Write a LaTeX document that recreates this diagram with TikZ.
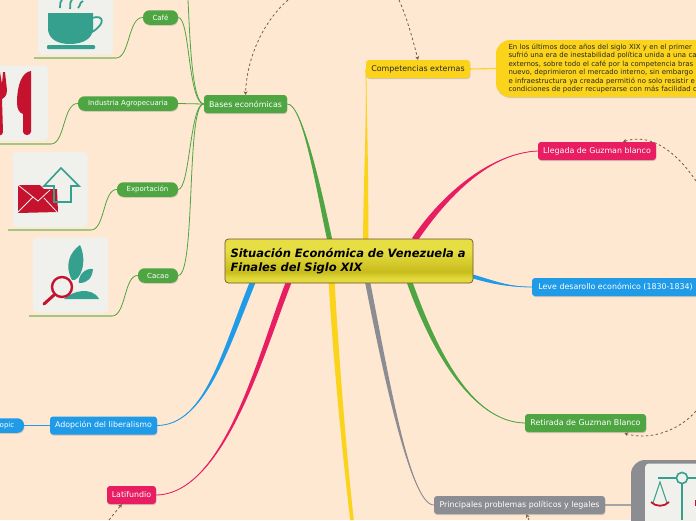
\documentclass[tikz,border=0pt]{standalone}
\usepackage{fontspec}
\setmainfont{DejaVu Sans}
\usetikzlibrary{calc,shadows,arrows.meta}
\pgfdeclarelayer{bg}
\pgfsetlayers{bg,main}
\definecolor{paper}{HTML}{FEE8D2}
\definecolor{mgreen}{HTML}{4EA542}
\definecolor{lgreen}{HTML}{A3C783}
\definecolor{myellow}{HTML}{FBD31B}
\definecolor{mpink}{HTML}{E81D62}
\definecolor{mblue}{HTML}{1F9BE8}
\definecolor{mgrey}{HTML}{8C8D92}
\definecolor{pale}{HTML}{F0F0EC}
\definecolor{teal}{HTML}{36A08E}
\definecolor{mred}{HTML}{C4122F}
\definecolor{dbrown}{HTML}{7E5A3A}
\definecolor{rootc}{HTML}{E2DA3C}
\definecolor{rootb}{HTML}{C8BC1C}
\definecolor{roott}{HTML}{E6DE42}
\pgfdeclareverticalshading{rootshade}{100bp}{color(0bp)=(rootc);color(30bp)=(rootc);color(38bp)=(rootb);color(62bp)=(roott);color(100bp)=(roott)}
\tikzset{
 topicbox/.style={rounded corners=3pt,inner sep=0pt,minimum height=18pt,text=white,font=\fontsize{7.9}{9}\selectfont,
   drop shadow={opacity=.35,shadow xshift=.4pt,shadow yshift=-1pt}},
 subbox/.style={rounded corners=6.5pt,inner sep=0pt,minimum height=14.5pt,text=white,fill=mgreen,font=\fontsize{7}{8}\selectfont,
   drop shadow={opacity=.3,shadow xshift=.4pt,shadow yshift=-1pt}},
 iconbox/.style={fill=pale,rounded corners=4pt,minimum width=75pt,minimum height=75pt,inner sep=0pt},
 twig/.style={mgreen,line width=.8pt},
 under/.style={lgreen,line width=1.1pt},
 dashlink/.style={draw=dbrown,line width=.8pt,dash pattern=on 2.5pt off 2.5pt,-{Stealth[length=3.5pt,width=4pt]}},
}
% colour, start, control 1, control 2, end, half width vector
\newcommand\taper[6]{%
 \fill[#1] ($(#2)+#6$) .. controls ($(#3)+#6$) and (#4) .. (#5) .. controls (#4) and ($(#3)-#6$) .. ($(#2)-#6$) -- cycle;
 \draw[#1,line width=.8pt] (#2) .. controls (#3) and (#4) .. (#5);}
\begin{document}
\begin{tikzpicture}[x=1pt,y=-1pt]
\useasboundingbox (0,0) rectangle (696,520);
\clip (0,0) rectangle (696,520);
% nodes
\node[draw=dbrown!90!black,line width=.7pt,rounded corners=3.5pt,shading=rootshade,minimum width=248pt,minimum height=44pt,inner sep=0pt,
  text width=237pt,align=left,font=\fontsize{11.5}{14.5}\selectfont\bfseries\itshape,text=black] (root) at (349,261) {Situación Económica de Venezuela a\\Finales del Siglo XIX};
\node[topicbox,fill=mgreen,minimum width=83pt] (bases) at (245.5,104) {Bases económicas};
\node[topicbox,fill=myellow,text=black!85,minimum width=104pt] (comp) at (418,69) {Competencias externas};
\node[fill=myellow,rounded corners=14pt,minimum width=264pt,minimum height=57pt,inner sep=0pt,text width=239pt,align=left,text=black!85,
  font=\fontsize{6.95}{8.45}\selectfont,drop shadow={opacity=.3,shadow xshift=.4pt,shadow yshift=-1pt}] (detail) at (628,68.5)
  {En los últimos doce años del siglo XIX y en el primer\\sufrió una era de inestabilidad política unida a una ca\\externos, sobre todo el café por la competencia bras\\nuevo, deprimieron el mercado interno, sin embargo\\e infraestructura ya creada permitió no solo resistir e\\condiciones de poder recuperarse con más facilidad d};
\node[topicbox,fill=mpink,minimum width=118pt] (llegada) at (597,151) {Llegada de Guzman blanco};
\node[topicbox,fill=mblue,minimum width=167pt] (leve) at (615.5,287) {Leve desarollo económico (1830-1834)};
\node[topicbox,fill=mgreen,minimum width=121pt] (retirada) at (585.5,423) {Retirada de Guzman Blanco};
\node[topicbox,fill=mgrey,minimum width=171pt] (princ) at (519.5,505) {Principales problemas políticos y legales};
\node[topicbox,fill=mblue,minimum width=107pt] (adop) at (103.5,425.5) {Adopción del liberalismo};
\node[subbox,fill=mblue,minimum width=34pt] (topic) at (7,425.5) {opic};
\node[topicbox,fill=mpink,minimum width=49pt] (lati) at (131.5,495) {Latifundio};
\node[subbox,minimum width=35pt] (cafe) at (160.5,17.5) {Café};
\node[subbox,minimum width=100pt] (indus) at (128,103.5) {Industria Agropecuaria};
\node[subbox,minimum width=61pt] (expo) at (147.5,189.5) {Exportación};
\node[subbox,minimum width=40pt] (cacao) at (158,275.5) {Cacao};
% icon tiles
\node[iconbox] (icup) at (75.5,17) {};
\node[iconbox] (ifork) at (10.5,103) {};
\node[iconbox] (iexp) at (50,189.5) {};
\node[iconbox] (icac) at (70.5,275) {};
\node[fill=mgrey,rounded corners=14pt,minimum width=130pt,minimum height=140pt,inner sep=0pt] (iscale) at (696,530) {};
\fill[pale,rounded corners=4pt] (645,463.5) rectangle (720,540);
% coffee cup
\fill[teal] (48,13) -- (93,13) -- (93,30) .. controls (92,38) and (84,44) .. (70,44) .. controls (56,44) and (49,38) .. (48,30) -- cycle;
\draw[teal,line width=1.8pt] (92,18) .. controls (104,14) and (106,24) .. (92,32);
\fill[teal,rounded corners=1pt] (47,45) rectangle (95,49);
\draw[teal,line width=1.8pt] (62,0) .. controls (59,3) and (61,5) .. (60,8);
\draw[teal,line width=1.8pt] (72,0) .. controls (69,3) and (71,5) .. (70,9);
\draw[teal,line width=1.8pt] (83,1) .. controls (79,3) and (81,5) .. (78,8);
% cutlery
\fill[mred] (31,71) .. controls (22,72) and (17,85) .. (17,103) .. controls (17,110) and (20,113) .. (23,114) -- (23,132) .. controls (24,136) and (30,136) .. (31,132) -- cycle;
\fill[mred] (0,72) -- (2,84) -- (3,72) -- (5,72) -- (7,90) .. controls (7,96) and (4,98) .. (2,99) -- (3,132) .. controls (2,136) and (0,135) .. (0,135) -- cycle;
% mail and arrow
\fill[mred] (18,185) -- (40,185) -- (44,189) -- (57,189) -- (58,212) -- (18,213) -- cycle;
\draw[pale,line width=.8pt] (18,185) -- (38,201) -- (50,190) (18,212) -- (33,197) (57,212) -- (44,198);
\draw[teal,line width=1.6pt,line join=miter] (61,168) -- (79,186) -- (71,186) -- (71,202) -- (54,202) -- (54,186) -- (44,186) -- cycle;
% plant and magnifier
\fill[teal] (80,245) .. controls (70,252) and (64,265) .. (72,280) .. controls (80,282) and (88,262) .. (80,245) -- cycle;
\fill[teal] (93,269) .. controls (85,268) and (78,275) .. (79,283) .. controls (88,283) and (92,278) .. (93,269) -- cycle;
\fill[teal] (64,299) .. controls (72,291) and (92,286) .. (99,299) -- cycle;
\draw[mred,line width=2.4pt,fill=pale] (62,287) circle (10);
\draw[mred,line width=3pt,line cap=round] (54,295) -- (44,304);
% scale
\draw[teal,line width=1.6pt] (658,478) -- (676,478) (688,478) -- (696,478) (682,484) -- (682,520);
\draw[teal,line width=1.6pt,fill=pale] (682,478) circle (5.6);
\draw[teal,line width=1pt] (653,503) -- (660,482) -- (667,503);
\draw[mred,line width=1.8pt] (651,502) .. controls (656,507) and (664,507) .. (669,502);
\fill[mred] (695,500) rectangle (696,506);
% connectors
\begin{pgfonlayer}{bg}
\fill[paper] (0,0) rectangle (696,520);
\coordinate (sgreen) at ($(root.north west)+(105,1)$);
\coordinate (syel) at ($(root.north west)+(141,1)$);
\coordinate (spink) at ($(root.north west)+(190,1)$);
\coordinate (sleve) at ($(root.east)+(-2,15)$);
\coordinate (sretir) at ($(root.south west)+(185,-1)$);
\coordinate (sgrey) at ($(root.south west)+(143,-1)$);
\coordinate (sydown) at ($(root.south west)+(107,-1)$);
\coordinate (splat) at ($(root.south west)+(64,-1)$);
\coordinate (sadop) at ($(root.south west)+(28,-1)$);
\coordinate (ydownend) at (352,520);
\taper{mgreen}{sgreen}{318,185}{302,103}{bases.east}{(2.6,0)}
\taper{myellow}{syel}{366,180}{367,110}{comp.west}{(2.6,0)}
\taper{mpink}{spink}{445,195}{490,153}{llegada.west}{(2.6,1.6)}
\taper{mblue}{sleve}{495,283}{510,287}{leve.west}{(0,2)}
\taper{mgreen}{sretir}{432,345}{470,422}{retirada.west}{(2.6,-1)}
\taper{mgrey}{sgrey}{385,370}{410,505}{princ.west}{(2.6,0)}
\fill[myellow] ($(sydown)+(3,0)$) .. controls (339,360) and (347,460) .. ($(ydownend)+(1.8,0)$) -- ($(ydownend)-(1.8,0)$) .. controls (343,460) and (333,360) .. ($(sydown)-(3,0)$) -- cycle;
\taper{mpink}{splat}{262,350}{225,494}{lati.east}{(2.6,1)}
\taper{mblue}{sadop}{225,350}{205,425}{adop.east}{(2.6,1)}
\draw[myellow,line width=1.1pt] (comp.east) -- (detail.west);
\draw[mgrey!80,line width=1.1pt] (princ.east) -- (princ.east -| iscale.west);
\draw[mblue,line width=1pt] (adop.west) -- (topic.east);
\coordinate (btop) at (188,0);
\draw[twig] (bases.west) .. controls (192,103) and (190,40) .. (btop);
\draw[twig] (bases.west) .. controls (188,103) and (190,17) .. (cafe.east);
\draw[twig] (bases.west) -- (indus.east);
\draw[twig] (bases.west) .. controls (190,103) and (190,189) .. (expo.east);
\draw[twig] (bases.west) .. controls (186,103) and (196,275) .. (cacao.east);
\coordinate (ua) at (34,58); \coordinate (ub) at (116,58);
\draw[under] (ua) -- (ub);
\draw[twig] (ub) .. controls (130,58) and (128,17) .. (cafe.west);
\coordinate (va) at (0,144); \coordinate (vb) at (51,144);
\draw[under] (va) -- (vb);
\draw[twig] (vb) .. controls (65,144) and (63,103) .. (indus.west);
\coordinate (wa) at (8,230); \coordinate (wb) at (91,230);
\draw[under] (wa) -- (wb);
\draw[twig] (wb) .. controls (105,230) and (103,189) .. (expo.west);
\coordinate (xa) at (29,316); \coordinate (xb) at (112,316);
\draw[under] (xa) -- (xb);
\draw[twig] (xb) .. controls (126,316) and (124,275) .. (cacao.west);
\end{pgfonlayer}
% dashed relations
\coordinate (da) at (288,0);
\coordinate (db) at (399,0);
\coordinate (dc) at (696,181);
\coordinate (dd) at (696,411);
\coordinate (de) at (109,520);
\coordinate (df) at (529,520);
\draw[dashlink] (da) .. controls (265,20) and (247,55) .. (bases.north);
\draw[dashlink] (db) .. controls (407,18) and (413,40) .. (comp.north);
\draw[dashlink] (dc) .. controls (675,150) and (650,133) .. ($(llegada.north)+(26,0)$);
\draw[dashlink] (dd) .. controls (680,430) and (650,441) .. ($(retirada.south)+(39,1)$);
\draw[dashlink] (de) -- ($(lati.south west)+(15,0)$);
\draw[dashlink] (df) -- ($(princ.south)+(7,0)$);
\end{tikzpicture}
\end{document}
